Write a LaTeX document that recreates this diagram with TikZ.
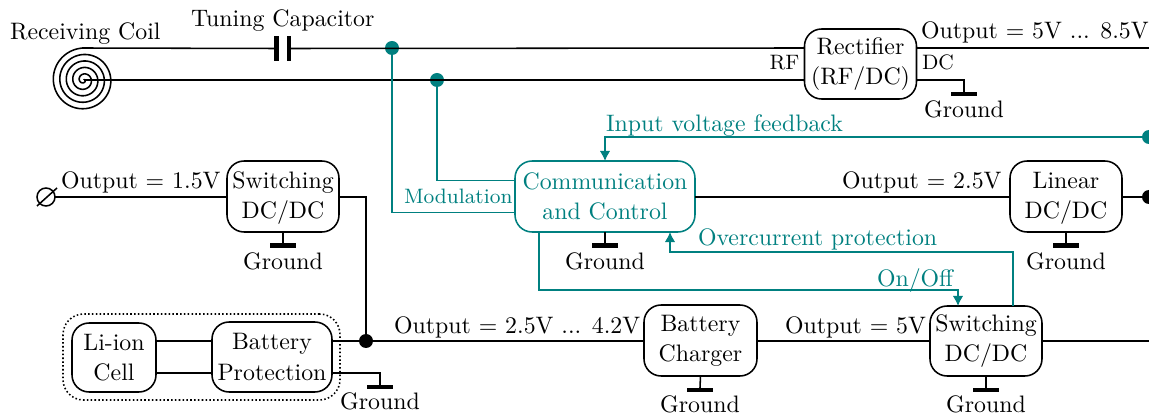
\documentclass[tikz,border=0pt]{standalone}
\usetikzlibrary{arrows.meta,calc}
\newcommand\upx{0.4386pt}
\newcommand\lowtop{\rule{0pt}{8.4pt}}
\definecolor{tealc}{RGB}{0,128,128}
\tikzset{
  every node/.style={font=\fontsize{10.45}{13.2}\selectfont},
  wire/.style={black,line width=0.68pt},
  twire/.style={tealc,line width=0.62pt},
  tarrow/.style={twire,-{Latex[length=4.4pt,width=4.6pt]}},
  blk/.style 2 args={draw,line width=0.68pt,rounded corners=7.5pt,inner sep=0pt,outer sep=0pt,align=center,
    minimum width=#1*\upx,minimum height=#2*\upx},
  dotb/.style={circle,fill=black,inner sep=0pt,minimum size=14*\upx,outer sep=0pt},
  dott/.style={circle,fill=tealc,inner sep=0pt,minimum size=14*\upx,outer sep=0pt},
  gbar/.style={fill=black,inner sep=0pt,outer sep=0pt,minimum width=26*\upx,minimum height=4.2*\upx},
  plate/.style={fill=black,inner sep=0pt,outer sep=0pt,minimum width=4.4*\upx,minimum height=25*\upx},
  lbl/.style={inner sep=0pt,outer sep=0pt,anchor=base west},
  tlbl/.style={lbl,text=tealc},
  slbl/.style={font=\fontsize{9.15}{11}\selectfont},
  gnd/.style={inner sep=0pt,outer sep=0pt,anchor=base},
}
\begin{document}
\begin{tikzpicture}[x=0.4386pt,y=-0.4386pt]
\clip (0,0) rectangle (1149,417);
% blocks
\node[blk={112}{70}] (rect) at (860.5,64) {Rectifier\\(RF/DC)};
\node[blk={112}{71},draw=black] (lin) at (1066,196.5) {\lowtop Linear\\DC/DC};
\node[blk={180}{71},draw=tealc,text=tealc] (comm) at (605,196.5) {Communication\\and Control};
\node[blk={112}{71}] (swl) at (283,196.5) {\lowtop Switching\\DC/DC};
\node[blk={277}{86},densely dotted,rounded corners=9pt] (pack) at (201.5,357) {};
\node[blk={84}{69}] (cell) at (114,357.5) {Li-ion\\Cell};
\node[blk={120}{70}] (bp) at (272,357) {Battery\\Protection};
\node[blk={113}{71}] (chg) at (700.5,340.5) {Battery\\Charger};
\node[blk={112}{70}] (swr) at (986,341) {Switching\\DC/DC};
% junctions
\node[dott] (d1) at (392,48) {};
\node[dott] (d2) at (437,80) {};
\node[dott] (d3) at (1149,137) {};
\node[dotb] (d4) at (366,341) {};
\node[dotb] (d5) at (1149,197) {};
% helpers
\coordinate (coilT) at (82,48);
\coordinate (coilC) at (84,80);
\coordinate (endT) at (1149,48);
\coordinate (endB) at (1149,341);
\node[plate] (c1) at (276.5,48.5) {};
\node[plate] (c2) at (289,48.5) {};
% coil
\draw[wire] plot[domain=90:1861,samples=400,smooth] ({83.7+(32-(\x-90)/360*6.5)*cos(\x)},{80-(32-(\x-90)/360*6.5)*sin(\x)});
% top wires
\draw[wire] (coilT) -- (c1);
\draw[wire] (c2) -- (rect.west |- coilT);
\draw[wire] (coilC) -- (rect.west |- coilC);
\draw[wire] (rect.east |- coilT) -- (endT);
% rectifier ground
\node[gbar] (g1) at (964,94) {};
\node[gnd] (g1t) at (964,117.5) {Ground};
\draw[wire] (rect.east |- coilC) -| (g1.north);
% not connected symbol
\coordinate (nc) at (46,197);
\draw[wire] (nc) circle[radius=9];
\coordinate (nca) at (37,206);
\coordinate (ncb) at (57,188);
\draw[wire] (nca) -- (ncb);
\draw[wire] (55,197) -- (swl.west |- nc);
% switching left
\coordinate (swlout) at (swl.east |- nc);
\draw[wire] (swlout) -| (d4);
\node[gbar] (g2) at (283,245.5) {};
\node[gnd] (g2t) at (283,269.5) {Ground};
\draw[wire] (swl.south) -- (g2.north);
% comm
\draw[wire] (comm.east |- nc) -- (lin.west |- nc);
\node[gbar] (g3) at (605,245.5) {};
\node[gnd] (g3t) at (605,269.5) {Ground};
\draw[wire] (comm.south) -- (g3.north);
% linear
\draw[wire] (lin.east |- nc) -- (d5);
\node[gbar] (g4) at (1066,245.5) {};
\node[gnd] (g4t) at (1066,269.5) {Ground};
\draw[wire] (lin.south) -- (g4.north);
% battery
\coordinate (y1) at (0,341);
\coordinate (y2) at (0,373);
\draw[wire] (cell.east |- y1) -- (bp.west |- y1);
\draw[wire] (cell.east |- y2) -- (bp.west |- y2);
\draw[wire] (bp.east |- y1) -- (chg.west |- y1);
\node[gbar] (g5) at (380,387) {};
\node[gnd] (g5t) at (380,410) {Ground};
\draw[wire] (bp.east |- y2) -| (g5.north);
\draw[wire] (chg.east |- y1) -- (swr.west |- y1);
\draw[wire] (swr.east |- y1) -- (endB);
\node[gbar] (g6) at (700,390) {};
\node[gnd] (g6t) at (700,412.5) {Ground};
\draw[wire] (chg.south) -- (g6.north);
\node[gbar] (g7) at (986,390) {};
\node[gnd] (g7t) at (986,412.5) {Ground};
\draw[wire] (swr.south) -- (g7.north);
% teal connectors
\coordinate (m1) at (0,212.7);
\coordinate (m2) at (0,180.7);
\draw[twire] (d1) |- (comm.west |- m1);
\draw[twire] (d2) |- (comm.west |- m2);
\draw[tarrow] (d3) -| (comm.north);
\coordinate (oc) at (1013,252);
\coordinate (oca) at (670,232);
\draw[tarrow] (swr.north -| oc) |- (oc -| oca) -- (oca);
\coordinate (on) at (539,290);
\coordinate (onb) at (958,306);
\draw[tarrow] (on |- comm.south) |- (on -| onb) -- (onb);
% labels
\node[lbl] (tl1) at (10,40) {Receiving Coil};
\node[lbl] (tl2) at (191,27) {Tuning Capacitor};
\node[lbl] (tl3) at (921,39) {Output = 5V ... 8.5V};
\node[lbl,slbl] (tl4) at (769.5,70) {RF};
\node[lbl,slbl] (tl5) at (922,70) {DC};
\node[lbl] (tl6) at (61,189) {Output = 1.5V};
\node[lbl] (tl7) at (842,189) {Output = 2.5V};
\node[lbl] (tl8) at (394,333.5) {Output = 2.5V ... 4.2V};
\node[lbl] (tl9) at (785,333.5) {Output = 5V};
\node[tlbl] (tl10) at (606,131.5) {Input voltage feedback};
\node[tlbl] (tl11) at (698,245.5) {Overcurrent protection};
\node[tlbl] (tl12) at (877,286.5) {On/Off};
\node[tlbl,slbl] (tl13) at (404,204) {Modulation};
\end{tikzpicture}
\end{document}
